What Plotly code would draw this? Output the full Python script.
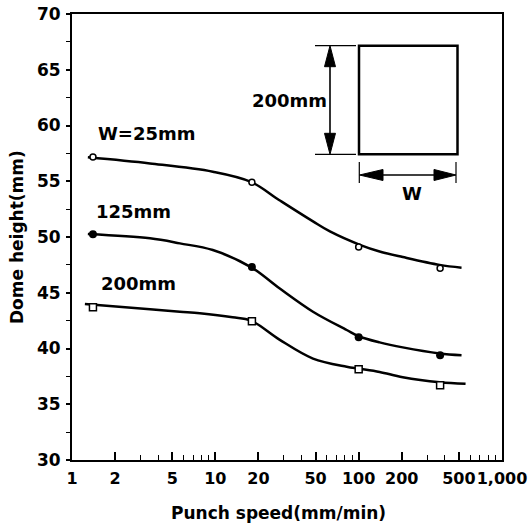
import plotly.graph_objects as go

# ---------------- data ----------------
speed_pts = [1.4, 18, 100, 370]
h_w25 = [57.17, 54.9, 49.1, 47.2]
h_w125 = [50.24, 47.3, 41.0, 39.4]
h_w200 = [43.7, 42.45, 38.15, 36.7]

# fitted curves
c25_x = [1.29, 3.5, 9.6, 17.7, 28, 48, 63, 102, 140, 203, 367, 522]
c25_y = [57.15, 56.6, 55.86, 54.95, 53.3, 51.4, 50.5, 49.3, 48.7, 48.2, 47.5, 47.25]
c125_x = [1.29, 3.5, 5.66, 9.6, 17.7, 28, 48, 82.5, 100, 140, 203, 367, 522]
c125_y = [50.27, 49.88, 49.43, 48.83, 47.3, 45.4, 43.3, 41.66, 41.1, 40.55, 40.1, 39.56, 39.4]
c200_x = [1.23, 3.5, 5.66, 7.8, 13.2, 17.7, 28, 48, 82.5, 100, 140, 203, 367, 557]
c200_y = [43.99, 43.52, 43.3, 43.16, 42.8, 42.5, 40.8, 39.1, 38.37, 38.2, 37.9, 37.43, 36.98, 36.84]

x_tickvals = [1, 2, 5, 10, 20, 50, 100, 200, 500, 1000]
x_ticktext = ["1", "2", "5", "10", "20", "50", "100", "200", "500", "1,000"]
x_minor = [3, 4, 6, 7, 8, 9, 30, 40, 60, 70, 80, 90, 300, 400, 600, 700, 800, 900]
y_tickvals = [30, 35, 40, 45, 50, 55, 60, 65, 70]
y_minor = [32.5, 37.5, 42.5, 47.5, 52.5, 57.5, 62.5, 67.5]

FONT = "DejaVu Sans, Liberation Sans, Arial, sans-serif"

fig = go.Figure()
for cx, cy in [(c25_x, c25_y), (c125_x, c125_y), (c200_x, c200_y)]:
    fig.add_trace(go.Scatter(x=cx, y=cy, mode="lines", line=dict(color="black", width=2.5, shape="spline"),
                             showlegend=False, hoverinfo="skip"))

fig.add_trace(go.Scatter(x=speed_pts, y=h_w25, mode="markers",
                         marker=dict(symbol="circle", size=6, color="white", line=dict(color="black", width=1.5)),
                         showlegend=False))
fig.add_trace(go.Scatter(x=speed_pts, y=h_w125, mode="markers",
                         marker=dict(symbol="circle", size=8, color="black"), showlegend=False))
fig.add_trace(go.Scatter(x=speed_pts, y=h_w200, mode="markers",
                         marker=dict(symbol="square", size=7, color="white", line=dict(color="black", width=1.5)),
                         showlegend=False))

L, R, T, B = 72, 26, 14, 71
W, H = 528, 531
PW, PH = W - L - R, H - T - B


def px(x):
    return (x - L) / PW


def py(y):
    return (H - B - y) / PH


shapes = []
line_k = dict(color="black", width=1.2)
# rectangle
shapes.append(dict(type="rect", xref="paper", yref="paper", x0=px(359), x1=px(457.5), y0=py(154.3), y1=py(45.7),
                   line=dict(color="black", width=2.5)))
# extension lines
shapes.append(dict(type="line", xref="paper", yref="paper", x0=px(315), x1=px(356), y0=py(45.7), y1=py(45.7), line=line_k))
shapes.append(dict(type="line", xref="paper", yref="paper", x0=px(315), x1=px(356), y0=py(154.3), y1=py(154.3), line=line_k))
shapes.append(dict(type="line", xref="paper", yref="paper", x0=px(359.3), x1=px(359.3), y0=py(162), y1=py(183), line=line_k))
shapes.append(dict(type="line", xref="paper", yref="paper", x0=px(456), x1=px(456), y0=py(162), y1=py(183), line=line_k))
# arrow shafts
shapes.append(dict(type="line", xref="paper", yref="paper", x0=px(330), x1=px(330), y0=py(60), y1=py(140),
                   line=dict(color="black", width=1.6)))
shapes.append(dict(type="line", xref="paper", yref="paper", x0=px(375), x1=px(441), y0=py(175), y1=py(175),
                   line=dict(color="black", width=1.6)))


def tri(pts):
    d = "M " + " L ".join(f"{px(a):.5f},{py(b):.5f}" for a, b in pts) + " Z"
    return dict(type="path", xref="paper", yref="paper", path=d, fillcolor="black", line=dict(color="black", width=1))


shapes.append(tri([(330, 45.7), (324.5, 66.7), (335.5, 66.7)]))
shapes.append(tri([(330, 154.3), (324.5, 133.3), (335.5, 133.3)]))
shapes.append(tri([(359.5, 175), (383, 169.5), (383, 180.5)]))
shapes.append(tri([(456, 175), (434, 169.5), (434, 180.5)]))

ann_font = dict(family=FONT, size=18, color="black", weight="bold")
title_font = dict(family=FONT, size=17, color="black", weight="bold")
annotations = [
    dict(text="W=25mm", x=px(96), y=py(133), xanchor="left", yanchor="middle", font=ann_font),
    dict(text="125mm", x=px(94), y=py(212), xanchor="left", yanchor="middle", font=ann_font),
    dict(text="200mm", x=px(99), y=py(283), xanchor="left", yanchor="middle", font=ann_font),
    dict(text="200mm", x=px(329), y=py(100), xanchor="right", yanchor="middle", font=ann_font),
    dict(text="W", x=px(412), y=py(193), xanchor="center", yanchor="middle", font=ann_font),
    dict(text="Punch speed(mm/min)", x=px(278), y=py(513), xanchor="center", yanchor="middle", font=title_font),
    dict(text="Dome height(mm)", x=px(16.5), y=py(237.5), xanchor="center", yanchor="middle", textangle=-90,
         font=title_font),
]
for a in annotations:
    a.update(xref="paper", yref="paper", showarrow=False)

tick_font = dict(family=FONT, size=16, color="black", weight="bold")
fig.update_layout(
    width=W, height=H, margin=dict(l=L, r=R, t=T, b=B, autoexpand=False),
    paper_bgcolor="white", plot_bgcolor="white",
    shapes=shapes, annotations=annotations,
    font=dict(family=FONT, color="black"),
    xaxis=dict(type="log", range=[0, 3], tickvals=x_tickvals, ticktext=x_ticktext, tickangle=0,
               ticks="inside", ticklen=8, tickwidth=1.5, tickcolor="black",
               minor=dict(tickvals=x_minor, ticks="inside", ticklen=5, tickwidth=1.2, tickcolor="black"),
               showline=True, linecolor="black", linewidth=2, mirror=True, showgrid=False, zeroline=False,
               tickfont=tick_font, ticklabelstandoff=3, automargin=False, ticklabeloverflow="allow"),
    yaxis=dict(range=[30, 70], tickvals=y_tickvals, ticks="outside", ticklen=4, tickwidth=1.5, tickcolor="black",
               minor=dict(tickvals=y_minor, ticks="outside", ticklen=4, tickwidth=1.2, tickcolor="black"),
               showline=True, linecolor="black", linewidth=2, mirror=True, showgrid=False, zeroline=False,
               tickfont=dict(family=FONT, size=17, color="black", weight="bold"), ticklabelstandoff=2,
               automargin=False, ticklabeloverflow="allow"),
)

fig.write_html("out.html")
